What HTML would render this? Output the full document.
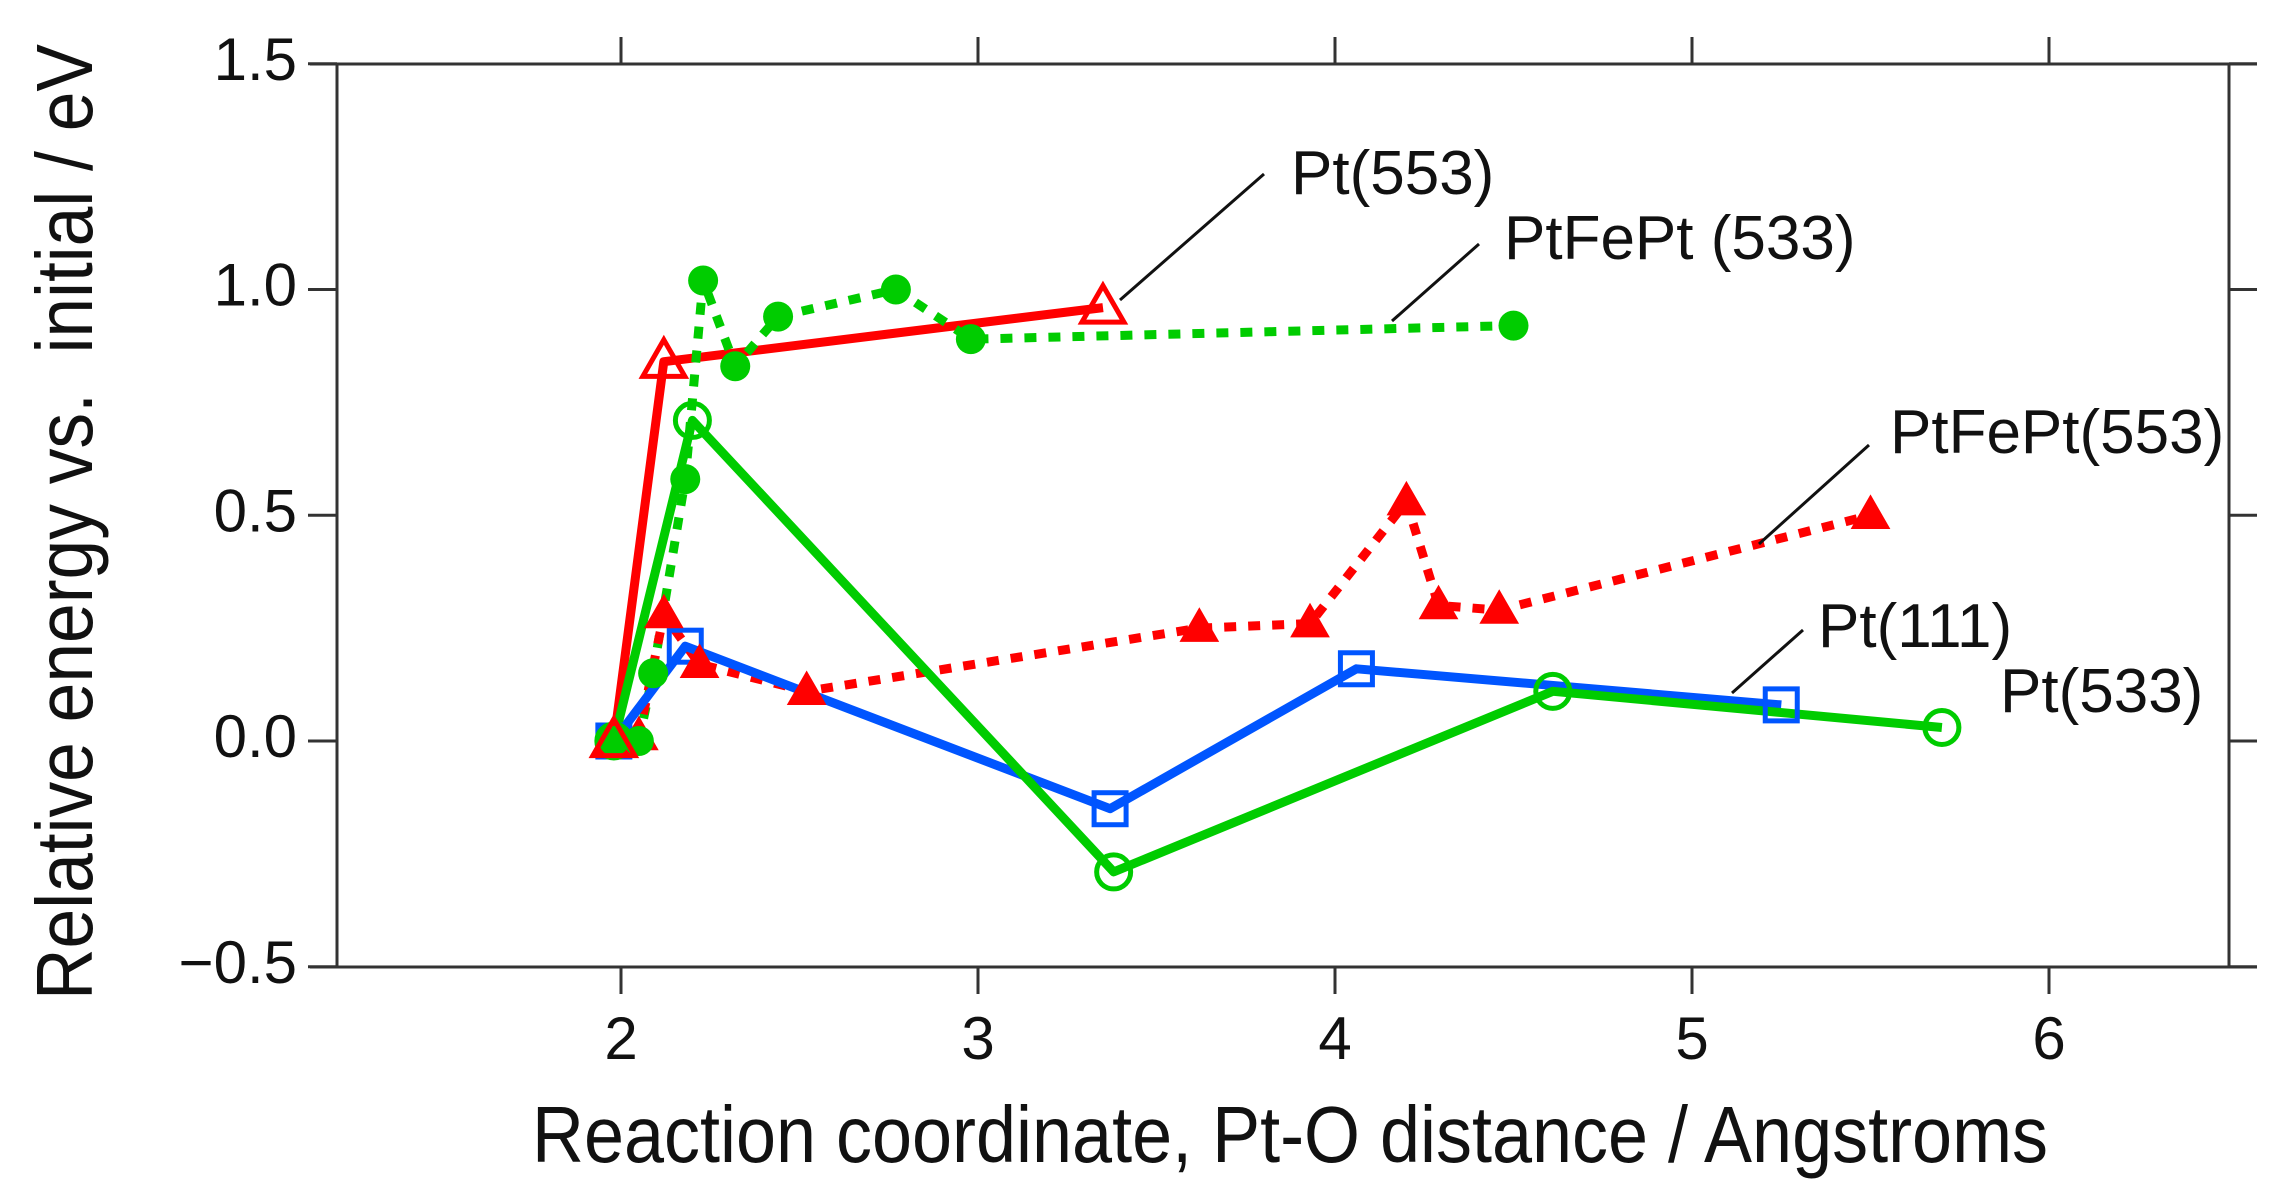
<!DOCTYPE html>
<html><head><meta charset="utf-8"><style>
html,body{margin:0;padding:0;background:#fff;}
svg{display:block;font-family:"Liberation Sans",Arial,sans-serif;}
</style></head><body>
<svg id="chart" width="2295" height="1193" viewBox="0 0 2295 1193" xmlns="http://www.w3.org/2000/svg">
<g id="axes"></g>
<g id="series"></g>
<g id="labels"></g>
</svg>
<script>
const xTicks = [2, 3, 4, 5, 6];
const yTicks = [-0.5, 0.0, 0.5, 1.0, 1.5];
const yTickLabels = ["\u22120.5", "0.0", "0.5", "1.0", "1.5"];

const pt553X = [1.98, 2.12, 3.35];
const pt553Y = [0.0, 0.84, 0.96];
const ptfe533X = [1.98, 2.05, 2.09, 2.18, 2.23, 2.32, 2.44, 2.77, 2.98, 4.5];
const ptfe533Y = [0.0, 0.0, 0.15, 0.58, 1.02, 0.83, 0.94, 1.0, 0.89, 0.92];
const ptfe553X = [1.98, 2.05, 2.12, 2.22, 2.52, 3.62, 3.93, 4.2, 4.29, 4.46, 5.5];
const ptfe553Y = [0.0, 0.01, 0.28, 0.17, 0.11, 0.25, 0.26, 0.53, 0.30, 0.29, 0.50];
const pt111X = [1.98, 2.18, 3.37, 4.06, 5.25];
const pt111Y = [0.0, 0.21, -0.15, 0.16, 0.08];
const pt533X = [1.98, 2.2, 3.38, 4.61, 5.7];
const pt533Y = [0.0, 0.71, -0.29, 0.11, 0.03];

const NS = "http://www.w3.org/2000/svg";
const L = 337, R = 2229, T = 64, B = 967;
function sx(v){ return 621 + (v - 2) * 357; }
function sy(v){ return 741 - v * 451.5; }
function mk(tag, attrs, parent){
  const e = document.createElementNS(NS, tag);
  for (const k in attrs) e.setAttribute(k, attrs[k]);
  parent.appendChild(e);
  return e;
}
const axes = document.getElementById('axes');
const series = document.getElementById('series');
const labels = document.getElementById('labels');
const ax = {stroke:'#333', 'stroke-width':3, fill:'none'};

let fr = mk('path', Object.assign({d:`M310 ${T}H2257M${L} ${T}V${B}M310 ${B}H2257M${R} ${T}V${B}`}, ax), axes);



xTicks.forEach((v) => {
  const x = sx(v);
  const t1 = mk('line', Object.assign({x1:x, x2:x, y1:T-27, y2:T}, ax), axes);
  
  
  const t2 = mk('line', Object.assign({x1:x, x2:x, y1:B, y2:B+27}, ax), axes);
  
  
  const tx = mk('text', {x:x, y:1059, 'font-size':60, 'text-anchor':'middle', fill:'#111'}, axes);
  tx.textContent = String(v);
  
  
});
yTicks.forEach((v, i) => {
  const y = sy(v);
  const t1 = mk('line', Object.assign({x1:L-29, x2:L, y1:y, y2:y}, ax), axes);
  
  
  const t2 = mk('line', Object.assign({x1:R, x2:R+28, y1:y, y2:y}, ax), axes);
  
  
  const tx = mk('text', {x:297, y:y+16, 'font-size':60, 'text-anchor':'end', fill:'#111'}, axes);
  tx.textContent = yTickLabels[i];
  
  
});
let xt = mk('text', {x:1290, y:1162, 'font-size':80, 'text-anchor':'middle', fill:'#111', textLength:1516, lengthAdjust:'spacingAndGlyphs'}, axes);
xt.textContent = 'Reaction coordinate, Pt-O distance / Angstroms';


let yt = mk('text', {x:0, y:0, 'font-size':80, 'text-anchor':'middle', fill:'#111', transform:'translate(92,522) rotate(-90)', textLength:956, lengthAdjust:'spacingAndGlyphs'}, axes);
yt.textContent = 'Relative energy vs.\u00a0 initial / eV';



function line(xs, ys, color, dashed, name){
  const d = xs.map((v, i) => (i ? 'L' : 'M') + sx(v).toFixed(1) + ' ' + sy(ys[i]).toFixed(1)).join('');
  const attrs = {d:d, stroke:color, 'stroke-width':9, fill:'none', 'stroke-linejoin':'round'};
  if (dashed) attrs['stroke-dasharray'] = '12 12';
  const p = mk('path', attrs, series);
  
  
}
function tri(x, y, s, color, filled, name){
  const h = s * 0.87;
  const p = mk('path', {d:`M${x} ${y-h*0.6}L${x+s/2} ${y+h*0.4}L${x-s/2} ${y+h*0.4}Z`,
    fill: filled ? color : 'none', stroke: color, 'stroke-width': filled ? 1 : 5, 'stroke-linejoin':'miter'}, series);
  
  
}

line(pt553X, pt553Y, '#ff0000', false, 'pt553-line');
line(ptfe533X, ptfe533Y, '#00cc00', true, 'ptfept533-line');
line(ptfe553X, ptfe553Y, '#ff0000', true, 'ptfept553-line');
line(pt111X, pt111Y, '#0055ff', false, 'pt111-line');
line(pt533X, pt533Y, '#00cc00', false, 'pt533-line');

pt111X.forEach((v, i) => {
  const s = mk('rect', {x:sx(v)-16, y:sy(pt111Y[i])-16, width:32, height:32, fill:'none', stroke:'#0055ff', 'stroke-width':5}, series);
  
  
});
pt533X.forEach((v, i) => {
  const c = mk('circle', {cx:sx(v), cy:sy(pt533Y[i]), r:17, fill:'none', stroke:'#00cc00', 'stroke-width':5}, series);
  
  
});
ptfe553X.forEach((v, i) => {
  tri(sx(v), sy(ptfe553Y[i]), 38, '#ff0000', true, 'ptfept553-marker');
});
ptfe533X.forEach((v, i) => {
  const c = mk('circle', {cx:sx(v), cy:sy(ptfe533Y[i]), r:15, fill:'#00cc00'}, series);
  
  
});
pt553X.forEach((v, i) => {
  tri(sx(v), sy(pt553Y[i]), 42, '#ff0000', false, 'pt553-marker');
});

function label(txt, x, y, lx1, ly1, lx2, ly2, name){
  const t = mk('text', {x:x, y:y, 'font-size':62, fill:'#111'}, labels);
  t.textContent = txt;
  
  
  if (lx1 !== null) {
    const l = mk('line', {x1:lx1, y1:ly1, x2:lx2, y2:ly2, stroke:'#111', 'stroke-width':3}, labels);
    
    
  }
}
label('Pt(553)', 1291, 194, 1264, 174, 1120, 300, 'pt553');
label('PtFePt (533)', 1504, 259, 1479, 244, 1392, 321, 'ptfept533');
label('PtFePt(553)', 1890, 453, 1869, 445, 1759, 544, 'ptfept553');
label('Pt(111)', 1818, 647, 1803, 630, 1732, 693, 'pt111');
label('Pt(533)', 2000, 712, null, 0, 0, 0, 'pt533');
</script>
</body></html>
